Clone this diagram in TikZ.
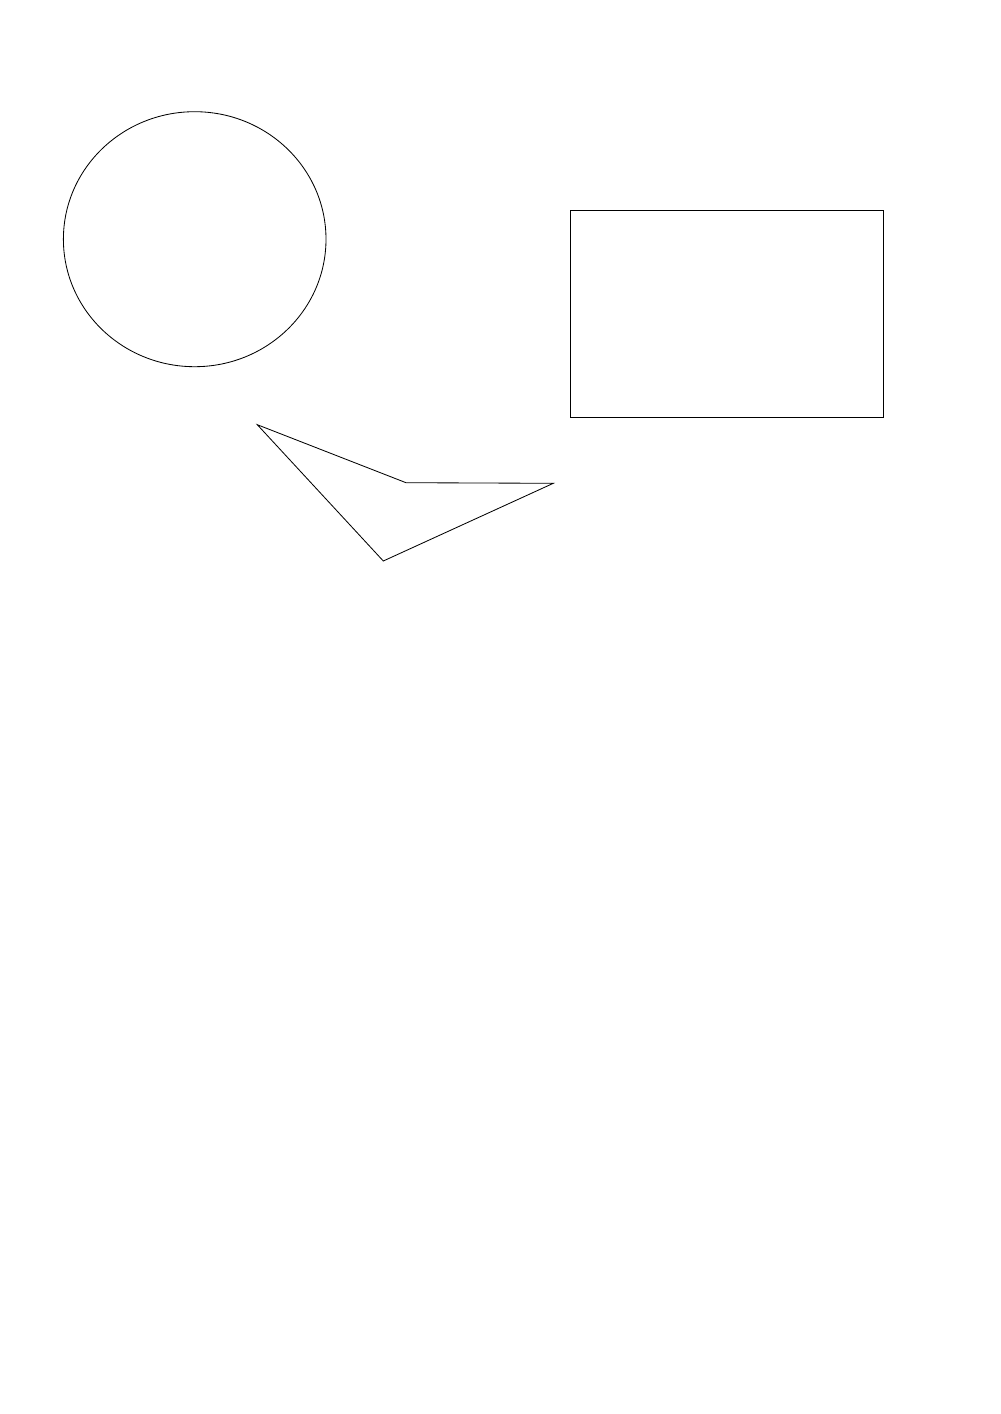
\documentclass[tikz,border=0pt]{standalone}
\usepackage{tikz}

\begin{document}
\begin{tikzpicture}[x=0.021cm,y=-0.021cm,line width=0.5pt]
  \tikzstyle{outline}=[draw=black]

  \useasboundingbox (0,0) rectangle (1000,1414);

  \path[outline] (194.7,239.2) ellipse [x radius=131.3, y radius=127.5];
  \path[outline] (570,210) rectangle (883,417.5);
  \path[outline] (257.3,424.7) -- (406,482.7) -- (553.3,483.3)
                 -- (383.3,561) -- cycle;
\end{tikzpicture}
\end{document}
